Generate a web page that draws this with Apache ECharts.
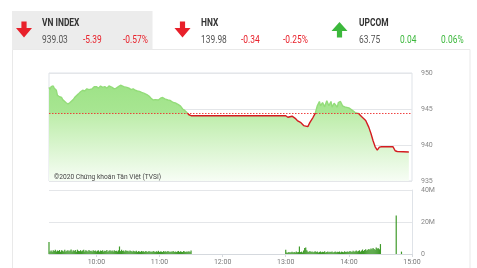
<!DOCTYPE html>
<html><head><meta charset="utf-8">
<script src="https://cdn.jsdelivr.net/npm/echarts@6/dist/echarts.min.js"></script>
<style>html,body{margin:0;padding:0;background:#fff}#c{width:477px;height:268px}</style>
</head><body><div id="c"></div><script>
// ---- header data ----
const indexNames = ['VN INDEX', 'HNX', 'UPCOM'];
const indexValues = ['939.03', '139.98', '63.75'];
const indexChanges = ['-5.39', '-0.34', '0.04'];
const indexPercents = ['-0.57%', '-0.25%', '0.06%'];
const indexUp = [false, false, true];

// ---- price data ----
const refPrice = 944.42;
const priceTimes = ['09:15','09:16','09:17','09:19','09:20','09:21','09:22','09:23','09:24','09:25','09:27','09:28','09:29','09:31','09:33','09:35','09:36','09:38','09:40','09:41','09:43','09:45','09:47','09:49','09:51','09:53','09:54','09:56','09:58','10:00','10:02','10:04','10:06','10:08','10:10','10:12','10:13','10:15','10:17','10:19','10:21','10:23','10:24','10:26','10:29','10:31','10:33','10:35','10:37','10:39','10:41','10:43','10:45','10:48','10:50','10:52','10:54','10:56','10:59','11:01','11:03','11:05','11:08','11:10','11:13','11:15','11:18','11:20','11:22','11:24','11:26','11:28','11:29','11:30','13:00','13:01','13:02','13:03','13:06','13:09','13:11','13:14','13:17','13:21','13:23','13:26','13:28','13:30','13:32','13:33','13:35','13:37','13:39','13:41','13:43','13:44','13:46','13:49','13:50','13:52','13:54','13:56','14:00','14:03','14:06','14:09','14:12','14:16','14:19','14:21','14:23','14:25','14:27','14:29','14:31','14:42','14:44','14:46','14:57'];
const priceValues = [948.0,947.7,948.1,948.2,947.9,948.0,947.6,946.9,947.1,946.7,946.6,946.3,946.4,945.9,945.7,945.9,946.1,946.3,946.7,946.85,947.1,947.4,947.6,947.5,947.8,947.7,947.9,947.8,948.1,948.1,947.9,948.2,948.0,948.1,947.9,948.2,948.25,948.0,947.8,947.9,948.1,948.3,948.25,948.1,948.0,947.9,947.7,947.8,947.6,947.5,947.45,947.3,947.2,947.0,946.8,946.5,946.25,946.3,946.25,946.5,946.6,946.4,946.25,946.2,945.9,945.85,945.6,945.4,945.0,944.8,944.5,944.2,944.07,944.07,944.07,944.07,943.85,944.0,944.0,943.7,943.4,943.15,942.7,942.55,943.15,943.85,944.4,945.45,946.05,945.45,945.9,945.3,946.15,945.45,946.05,945.25,945.8,945.25,945.9,946.05,945.45,945.3,945.15,944.85,944.5,944.4,943.95,943.4,942.45,941.6,940.6,939.75,939.3,939.7,939.75,939.75,939.2,939.1,939.03];

// ---- volume data (millions, one bar per minute from session start) ----
const volMorningStart = '09:15';
const volMorning = [7.5,1.6,2.2,1.4,2.4,1.8,2.6,1.5,2.2,1.9,
  2.5,1.4,2.3,2.0,1.6,2.6,1.5,2.1,2.4,1.7,
  2.2,2.8,1.6,2.3,1.9,2.5,1.4,2.7,2.0,1.8,
  2.4,1.7,2.2,2.6,1.5,2.3,2.0,1.6,2.5,1.9,
  2.1,1.5,2.4,1.8,2.2,1.6,2.0,2.3,1.5,2.2,
  1.8,2.4,1.6,2.1,1.9,2.5,1.4,2.0,2.3,1.7,
  2.2,1.6,2.4,1.9,2.1,1.5,2.3,4.7,1.8,2.6,
  1.9,2.2,1.5,2.4,1.8,2.0,1.6,2.2,1.9,1.4,
  2.1,1.7,1.5,2.0,1.3,1.8,1.6,1.4,1.9,1.5,
  1.7,1.3,1.8,1.5,1.2,1.9,1.4,1.6,1.3,1.8,
  1.5,1.2,1.7,1.4,2.0,1.3,1.6,1.5,1.2,1.8,
  1.4,1.7,1.3,1.9,1.5,1.2,1.6,1.4,1.8,1.3,
  1.6,1.2,1.5,1.9,1.3,1.7,1.4,1.2,1.8,1.5,
  1.3,1.6,1.4,1.7,1.2,2.2];
const volAfternoonStart = '13:00';
const volAfternoon = [2.7,1.0,0.8,1.2,0.9,1.1,1.4,0.9,1.3,1.0,
  1.6,1.1,1.3,4.7,1.2,1.5,1.0,2.2,3.8,4.0,
  2.4,1.6,1.3,1.8,1.2,1.5,1.1,1.4,1.7,1.2,
  1.5,1.0,1.3,1.6,1.1,1.4,1.2,1.7,1.0,1.3,
  1.5,1.1,1.4,1.2,1.6,1.0,1.3,1.5,1.1,1.4,
  1.2,1.6,1.0,1.5,1.3,1.1,1.7,1.2,1.4,1.6,
  1.3,1.8,1.5,1.2,2.0,1.4,1.7,2.2,1.6,1.9,
  2.4,1.5,2.1,2.8,1.8,2.5,3.0,2.2,2.7,3.2,
  2.6,3.5,2.9,3.8,3.1,2.7,4.0,3.4,3.6,3.0,
  6.2];
const volAtcTimes = ['14:45', '14:50'];
const volAtc = [24, 1.5];

const xTickLabels = ['10:00', '11:00', '12:00', '13:00', '14:00', '15:00'];
const priceTicks = [935, 940, 945, 950];
const volTicks = [0, 20, 40];

// ---- helpers ----
function toMin(t) { const p = t.split(':'); return +p[0] * 60 + +p[1]; }
function fmtMin(m) { const h = Math.floor(m / 60), mm = m % 60; return (h < 10 ? '0' : '') + h + ':' + (mm < 10 ? '0' : '') + mm; }

const priceData = priceTimes.map((t, i) => [toMin(t), priceValues[i]]);
const volData = [];
volMorning.forEach((v, i) => volData.push([toMin(volMorningStart) + i, v]));
volAfternoon.forEach((v, i) => volData.push([toMin(volAfternoonStart) + i, v]));
volAtcTimes.forEach((t, i) => volData.push([toMin(t), volAtc[i]]));
const xTickVals = xTickLabels.map(toMin);

// ---- header graphics ----
const RED = '#e8202a', GREEN = '#3cb83c', GREY_TXT = '#555';
const colX = [42, 201, 359];
const chgX = [83, 241, 400];
const pctX = [123, 283, 441];
const arrowCX = [24, 182.5, 339.5];
const FONT = 'Roboto, sans-serif';
const SX = 0.84;
const graphics = [
  { type: 'rect', shape: { x: 12.5, y: 49.5, width: 457.5, height: 240 }, style: { fill: '#fff', stroke: '#e9e9e9', lineWidth: 1 }, z: -10, silent: true },
  { type: 'rect', shape: { x: 12, y: 11, width: 140.5, height: 38.5 }, style: { fill: '#ececec' }, z: -9, silent: true },
  { type: 'text', x: 54, y: 177, scaleX: 0.95, style: { text: '©2020 Chứng khoán Tân Việt (TVSI)', fill: '#444', font: '7px Roboto, sans-serif', verticalAlign: 'middle' }, z: 10, silent: true }
];
indexNames.forEach((name, i) => {
  const cx = arrowCX[i];
  const col = indexUp[i] ? GREEN : RED;
  const pts = indexUp[i]
    ? [[cx - 2.6, 37.5], [cx + 2.6, 37.5], [cx + 2.6, 31], [cx + 8, 31], [cx, 22], [cx - 8, 31], [cx - 2.6, 31]]
    : [[cx - 2.6, 21.5], [cx + 2.6, 21.5], [cx + 2.6, 28], [cx + 8, 28], [cx, 37.5], [cx - 8, 28], [cx - 2.6, 28]];
  graphics.push({ type: 'polygon', shape: { points: pts }, style: { fill: col }, silent: true });
  graphics.push({ type: 'text', x: colX[i], y: 23.5, scaleX: SX, style: { text: name, fill: '#333', font: 'bold 10px ' + FONT, verticalAlign: 'middle' }, silent: true });
  graphics.push({ type: 'text', x: colX[i], y: 40, scaleX: SX, style: { text: indexValues[i], fill: GREY_TXT, font: '10px ' + FONT, verticalAlign: 'middle' }, silent: true });
  graphics.push({ type: 'text', x: chgX[i], y: 40, scaleX: SX, style: { text: indexChanges[i], fill: col, font: '10px ' + FONT, verticalAlign: 'middle' }, silent: true });
  graphics.push({ type: 'text', x: pctX[i], y: 40, scaleX: SX, style: { text: indexPercents[i], fill: col, font: '10px ' + FONT, verticalAlign: 'middle' }, silent: true });
});

const chart = echarts.init(document.getElementById('c'), null, { renderer: 'canvas' });
const PT = 73, PB = 181;
const PMIN = priceTicks[0], PMAX = priceTicks[priceTicks.length - 1];
const refFrac = (PMAX - refPrice) / (PMAX - PMIN);
chart.setOption({
  animation: false,
  backgroundColor: '#fff',
  graphic: graphics,
  grid: [
    { left: 49, right: 65, top: PT, height: PB - PT, show: true, borderColor: '#dfe3e8', borderWidth: 1, backgroundColor: 'transparent' },
    { left: 49, right: 65, top: 190, height: 64 }
  ],
  xAxis: [
    { type: 'value', gridIndex: 0, min: toMin('09:15'), max: toMin('15:00'), show: false },
    { type: 'value', gridIndex: 1, min: toMin('09:15'), max: toMin('15:00'),
      axisLine: { show: true, lineStyle: { color: '#d5d9de' } },
      axisTick: { show: true, customValues: xTickVals, length: 3, lineStyle: { color: '#d5d9de' } },
      axisLabel: { customValues: xTickVals, formatter: v => fmtMin(v), color: '#777', fontSize: 7, fontFamily: 'Roboto', margin: 5 },
      splitLine: { show: false } }
  ],
  yAxis: [
    { type: 'value', gridIndex: 0, position: 'right', min: PMIN, max: PMAX, interval: 5,
      axisLine: { show: false }, axisTick: { show: false },
      axisLabel: { color: '#888', fontSize: 7, fontFamily: 'Roboto', margin: 9 },
      splitLine: { lineStyle: { color: '#e4e6e9', width: 1 } } },
    { type: 'value', gridIndex: 1, position: 'right', min: volTicks[0], max: volTicks[volTicks.length - 1], interval: 20,
      axisLine: { show: true, lineStyle: { color: '#dfe3e8' } }, axisTick: { show: false },
      axisLabel: { color: '#888', fontSize: 7, fontFamily: 'Roboto', margin: 9, formatter: v => v === 0 ? '0' : v + 'M' },
      splitLine: { lineStyle: { color: '#e4e6e9', width: 1 } } }
  ],
  series: [
    { type: 'line', xAxisIndex: 0, yAxisIndex: 0, data: priceData, showSymbol: false, symbol: 'none',
      lineStyle: { width: 1.4, color: new echarts.graphic.LinearGradient(0, PT, 0, PB, [
        { offset: 0, color: '#93dc79' }, { offset: refFrac, color: '#93dc79' },
        { offset: refFrac + 0.0001, color: '#d41b20' }, { offset: 1, color: '#d41b20' } ], true) },
      areaStyle: { opacity: 1, color: new echarts.graphic.LinearGradient(0, PT, 0, PB, [
        { offset: 0, color: '#9ae183' }, { offset: refFrac, color: '#a8e692' },
        { offset: refFrac + 0.005, color: '#bdedaa' }, { offset: 1, color: '#f7fdf5' } ], true) },
      markLine: { silent: true, symbol: ['none', 'none'], label: { show: false },
        lineStyle: { color: '#ee3030', type: [1.5, 1.5], width: 1, opacity: 0.9 },
        data: [ { yAxis: refPrice } ] },
      z: 3 },
    { type: 'bar', xAxisIndex: 1, yAxisIndex: 1, data: volData, barWidth: 1.2,
      itemStyle: { color: '#3f9a2a' } }
  ]
});
</script></body></html>
